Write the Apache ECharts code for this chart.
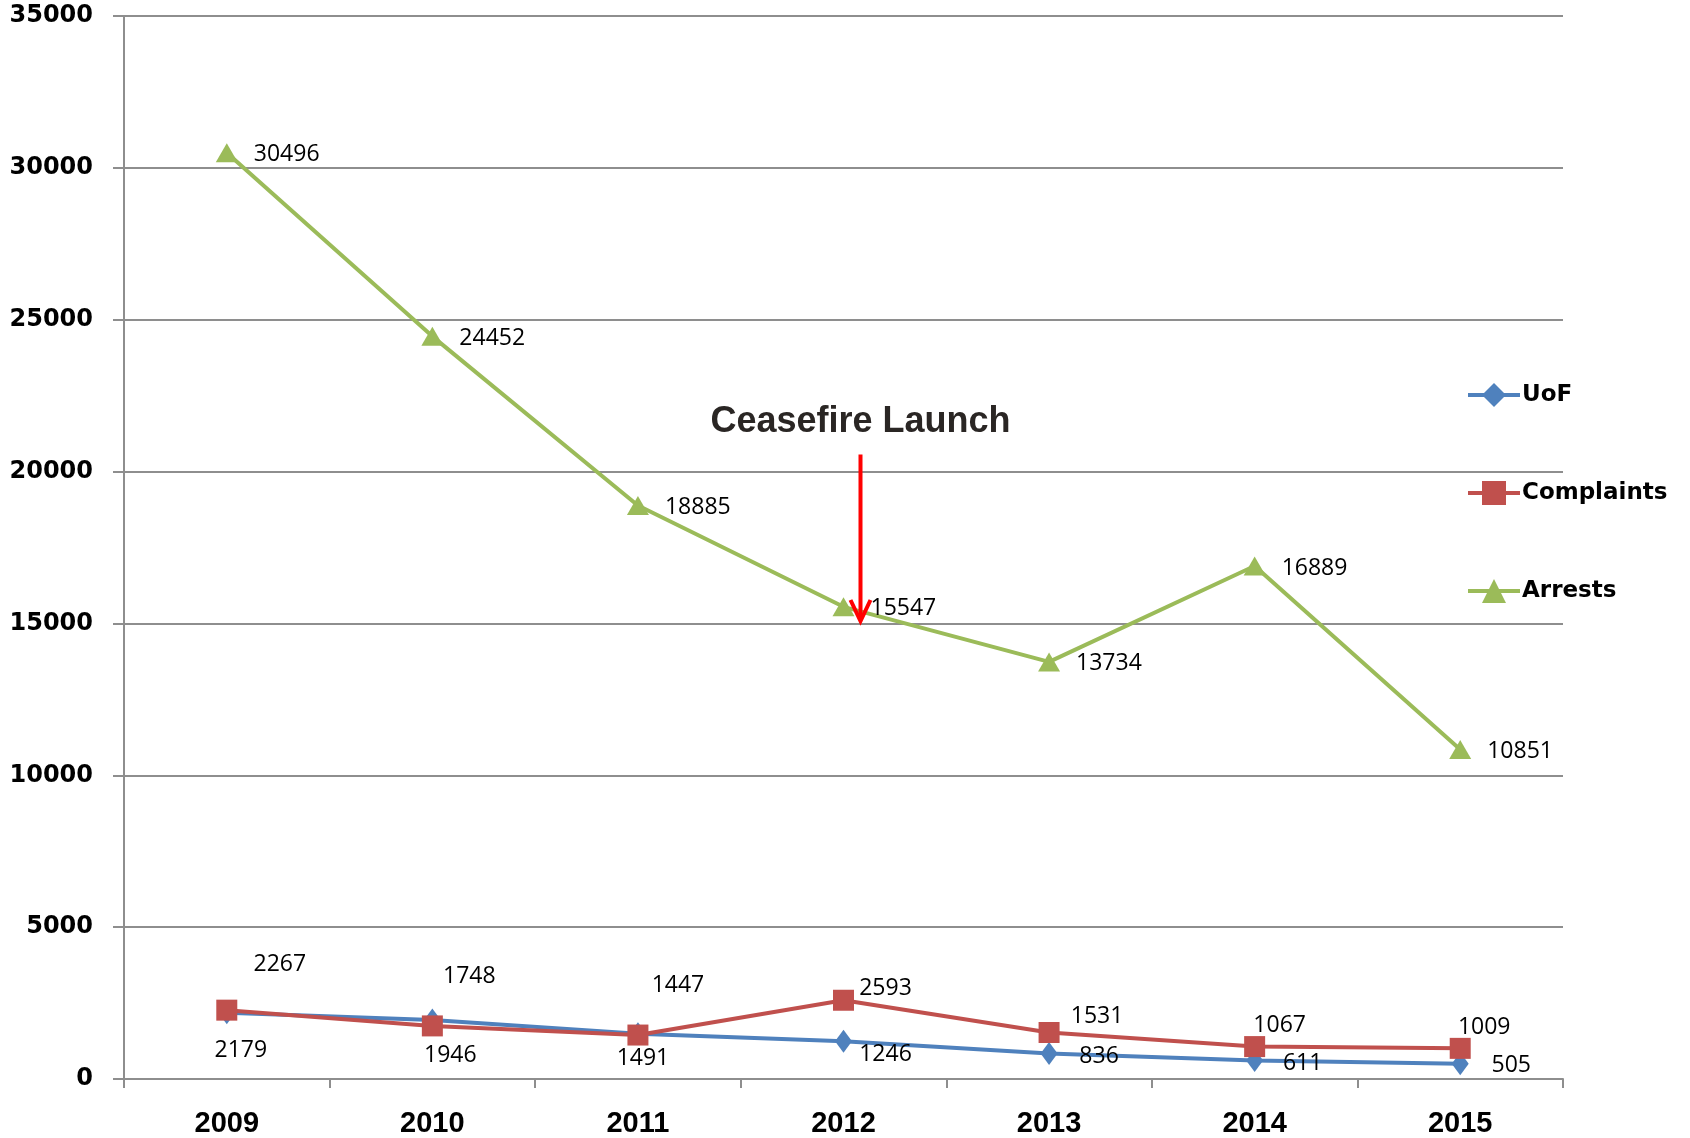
<!DOCTYPE html>
<html>
<head>
<meta charset="utf-8">
<script src="https://cdn.jsdelivr.net/npm/echarts@6/dist/echarts.min.js"></script>
<style>
  html, body { margin: 0; padding: 0; background: #ffffff; }
  #chart { width: 1690px; height: 1138px; }
</style>
</head>
<body>
<div id="chart"></div>
<script>
// Yearly counts
const years = ['2009', '2010', '2011', '2012', '2013', '2014', '2015'];
const uof = [2179, 1946, 1491, 1246, 836, 611, 505];
const complaints = [2267, 1748, 1447, 2593, 1531, 1067, 1009];
const arrests = [30496, 24452, 18885, 15547, 13734, 16889, 10851];
const yTicks = { min: 0, max: 35000, interval: 5000 };

// Label placement (pixel offsets from each point)
const uofLabelOffsets = [[14, 38], [18, 36], [5, 25], [42, 13], [50, 3], [48, 3], [51, 2]];
const complaintLabelOffsets = [[53, -46], [37, -49], [40, -50], [42, -12], [48, -16], [25, -21], [24, -21]];

// Annotation
const launchYear = '2012';
const launchText = 'Ceasefire Launch';

const BLUE = '#4f81bd', RED = '#c0504d', GREEN = '#9bbb59', GRID = '#8e8e8e';
const labelFont = { fontFamily: '"Open Sans", sans-serif', fontSize: 23, color: '#000' };

function offsetLabels(values, offsets) {
  return values.map((v, i) => ({
    value: v,
    label: { show: true, position: 'inside', offset: offsets[i], align: 'center', verticalAlign: 'middle', ...labelFont }
  }));
}

const chart = echarts.init(document.getElementById('chart'), null, { renderer: 'canvas' });

chart.setOption({
  animation: false,
  backgroundColor: '#ffffff',
  grid: { left: 124, right: 127, top: 16, bottom: 57, containLabel: false },
  legend: {
    orient: 'vertical',
    left: 1461,
    top: 378,
    itemWidth: 52,
    itemHeight: 30,
    itemGap: 74,
    lineStyle: { width: 4 },
    textStyle: { fontFamily: '"DejaVu Sans", sans-serif', fontWeight: 'bold', fontSize: 23, color: '#000', padding: [0, 0, 0, -3] },
    data: ['UoF', 'Complaints', 'Arrests']
  },
  xAxis: {
    type: 'category',
    data: years,
    boundaryGap: true,
    axisLine: { lineStyle: { color: GRID, width: 2 } },
    axisTick: { show: true, length: 9, lineStyle: { color: GRID, width: 2 }, alignWithLabel: false },
    axisLabel: { margin: 30, fontFamily: '"Liberation Sans", Arial, sans-serif', fontWeight: 'bold', fontSize: 29, color: '#000' },
    splitLine: { show: false }
  },
  yAxis: {
    type: 'value',
    min: yTicks.min,
    max: yTicks.max,
    interval: yTicks.interval,
    axisLine: { show: true, lineStyle: { color: GRID, width: 2 } },
    axisTick: { show: true, length: 11, lineStyle: { color: GRID, width: 2 } },
    axisLabel: {
      margin: 31,
      formatter: (v) => String(v),
      fontFamily: '"DejaVu Sans", sans-serif', fontWeight: 'bold', fontSize: 24, color: '#000'
    },
    splitLine: { show: true, lineStyle: { color: GRID, width: 2 } }
  },
  series: [
    {
      name: 'UoF',
      type: 'line',
      data: offsetLabels(uof, uofLabelOffsets),
      symbol: 'diamond',
      symbolSize: [17, 23],
      lineStyle: { color: BLUE, width: 4 },
      itemStyle: { color: BLUE },
      z: 2
    },
    {
      name: 'Complaints',
      type: 'line',
      data: offsetLabels(complaints, complaintLabelOffsets),
      symbol: 'rect',
      symbolSize: 21,
      lineStyle: { color: RED, width: 4 },
      itemStyle: { color: RED },
      z: 3
    },
    {
      name: 'Arrests',
      type: 'line',
      data: arrests,
      symbol: 'triangle',
      symbolSize: [22, 19],
      lineStyle: { color: GREEN, width: 4 },
      itemStyle: { color: GREEN },
      label: { show: true, position: 'right', distance: 16, offset: [0, 2], ...labelFont },
      z: 4
    }
  ]
});

// Launch marker: caption and downward red arrow just right of the launch year
const xLaunch = chart.convertToPixel({ xAxisIndex: 0 }, launchYear) + 17;
const yText = chart.convertToPixel({ yAxisIndex: 0 }, 21630);
const yTop = chart.convertToPixel({ yAxisIndex: 0 }, 20560);
const yTip = chart.convertToPixel({ yAxisIndex: 0 }, 15080);

chart.setOption({
  graphic: [
    {
      type: 'text',
      x: xLaunch,
      y: yText,
      z: 10,
      style: {
        text: launchText,
        align: 'center',
        verticalAlign: 'middle',
        fontFamily: '"Liberation Sans", Arial, sans-serif',
        fontWeight: 'bold',
        fontSize: 36,
        fill: '#2a2624'
      }
    },
    {
      type: 'line',
      z: 10,
      shape: { x1: xLaunch, y1: yTop, x2: xLaunch, y2: yTip - 2 },
      style: { stroke: '#ff0000', lineWidth: 4 }
    },
    {
      type: 'polyline',
      z: 10,
      shape: { points: [[xLaunch - 10, yTip - 21], [xLaunch, yTip], [xLaunch + 10, yTip - 21]] },
      style: { stroke: '#ff0000', lineWidth: 4, fill: null, lineJoin: 'miter' }
    }
  ]
});
</script>
</body>
</html>
